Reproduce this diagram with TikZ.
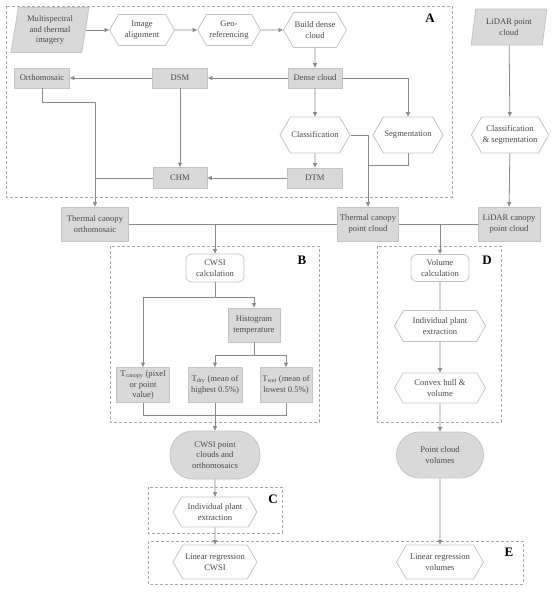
\documentclass[tikz,border=0pt]{standalone}
\usepackage{fontspec}
\setmainfont{Liberation Serif}
\usetikzlibrary{shapes.geometric,shapes.symbols,shapes.misc,arrows.meta}
\definecolor{fillg}{HTML}{D9D9D9}
\definecolor{bordg}{HTML}{C4C4C4}
\definecolor{lineg}{HTML}{8A8A8A}
\definecolor{dashg}{HTML}{A8A8A8}
\definecolor{txtg}{HTML}{4A4A4A}
\tikzset{
  base/.style={font=\fontsize{8.6}{10.6}\selectfont, text=txtg, align=center, inner sep=1pt, line width=0.8pt},
  grect/.style={base, rectangle, draw=bordg, fill=fillg},
  hexa/.style={base, shape=signal, signal to=east and west, signal pointer angle=120, draw=bordg, fill=white},
  para/.style={base, trapezium, trapezium left angle=80, trapezium right angle=100, trapezium stretches=true, draw=bordg, fill=fillg},
  rbox/.style={base, rectangle, rounded corners=6pt, draw=bordg, fill=white},
  stad/.style={base, rectangle, rounded corners=23pt, draw=bordg, fill=fillg},
  conn/.style={draw=lineg, line width=0.8pt},
  arr/.style={conn, -{Triangle[length=4.5pt,width=4pt]}},
  region/.style={draw=dashg, dashed, dash pattern=on 3pt off 2pt, line width=0.7pt},
  tag/.style={font=\fontsize{13}{13}\selectfont\bfseries, text=black}
}
\begin{document}
\begin{tikzpicture}[x=1pt,y=-1pt]
\useasboundingbox (0,0) rectangle (550,592);
% regions
\draw[region] (6,6) rectangle (452,197);
\draw[region] (110,246) rectangle (319,422);
\draw[region] (148,487) rectangle (282,533);
\draw[region] (377,246) rectangle (501,422);
\draw[region] (148,541) rectangle (523,584);
\node[tag] (tA) at (430,18) {A};
\node[tag] (tB) at (302,260) {B};
\node[tag] (tC) at (273,499) {C};
\node[tag] (tD) at (487,260) {D};
\node[tag] (tE) at (509,552) {E};
% nodes part A
\node[para, minimum width=78pt, minimum height=45pt] (ms) at (50,30) {Multispectral\\and thermal\\imagery};
\node[hexa, minimum width=65pt, minimum height=31pt] (ia) at (142,30) {Image\\alignment};
\node[hexa, minimum width=63pt, minimum height=31pt] (geo) at (229,30) {Geo-\\referencing};
\node[hexa, minimum width=61pt, minimum height=35pt] (bdc) at (315,30) {Build dense\\cloud};
\node[grect, minimum width=54pt, minimum height=20pt] (dc) at (315,78) {Dense cloud};
\node[grect, minimum width=55pt, minimum height=20pt] (dsm) at (180,78) {DSM};
\node[grect, minimum width=55pt, minimum height=20pt] (ortho) at (42,78) {Orthomosaic};
\node[hexa, minimum width=67pt, minimum height=36pt] (cls) at (315,135) {Classification};
\node[hexa, minimum width=58pt, minimum height=36pt] (seg) at (408,135) {Segmentation};
\node[grect, minimum width=55pt, minimum height=20pt] (dtm) at (315,178) {DTM};
\node[grect, minimum width=54pt, minimum height=21pt] (chm) at (180,178) {CHM};
% LiDAR
\node[para, minimum width=76pt, minimum height=36pt] (lpc) at (509,27) {LiDAR point\\cloud};
\node[hexa, minimum width=76pt, minimum height=36pt] (cs) at (510,135) {Classification\\\& segmentation};
% canopy products
\node[grect, minimum width=67pt, minimum height=34pt] (tco) at (95,224) {Thermal canopy\\orthomosaic};
\node[grect, minimum width=61pt, minimum height=34pt] (tcpc) at (368,224) {Thermal canopy\\point cloud};
\node[grect, minimum width=62pt, minimum height=34pt] (lcpc) at (509,224) {LiDAR canopy\\point cloud};
% B
\node[rbox, minimum width=58pt, minimum height=28pt] (cwsi) at (215,268) {CWSI\\calculation};
\node[grect, minimum width=52pt, minimum height=34pt] (hist) at (254,325) {Histogram\\temperature};
\node[grect, minimum width=53pt, minimum height=35pt] (tcan) at (143,385) {T\textsubscript{canopy} (pixel\\or point\\value)};
\node[grect, minimum width=54pt, minimum height=35pt] (tdry) at (215,385) {T\textsubscript{dry} (mean of\\highest 0.5\%)};
\node[grect, minimum width=52pt, minimum height=35pt] (twet) at (286,385) {T\textsubscript{wet} (mean of\\lowest 0.5\%)};
\node[stad, minimum width=90pt, minimum height=48pt] (cpc) at (215,455) {CWSI point\\clouds and\\orthomosaics};
% C, E
\node[hexa, minimum width=84pt, minimum height=30pt] (ipec) at (215,512) {Individual plant\\extraction};
\node[hexa, minimum width=84pt, minimum height=34pt] (lrc) at (215,562) {Linear regression\\CWSI};
\node[hexa, minimum width=87pt, minimum height=34pt] (lrv) at (440,562) {Linear regression\\volumes};
% D
\node[rbox, minimum width=58pt, minimum height=27pt] (vol) at (440,268) {Volume\\calculation};
\node[hexa, minimum width=91pt, minimum height=31pt] (iped) at (440,326) {Individual plant\\extraction};
\node[hexa, minimum width=91pt, minimum height=30pt] (chv) at (440,388) {Convex hull \&\\volume};
\node[stad, minimum width=87pt, minimum height=46pt] (pcv) at (440,455) {Point cloud\\volumes};
% junction coordinates
\coordinate (j1) at (42,102);
\coordinate (j2) at (95,102);
\coordinate (j3) at (95,178);
\coordinate (j4) at (368,135);
\coordinate (j5) at (408,165);
\coordinate (j6) at (368,165);
\coordinate (j7) at (215,224);
\coordinate (j8) at (440,224);
\coordinate (j9) at (215,297);
\coordinate (j10) at (143,297);
\coordinate (j11) at (254,297);
\coordinate (j12) at (254,355);
\coordinate (j13) at (215,355);
\coordinate (j14) at (286,355);
\coordinate (j15) at (143,415);
\coordinate (j16) at (286,415);
% connectors A
\draw[arr] (ms.east |- ia.west) -- (ia.west);
\draw[arr] (ia) -- (geo);
\draw[arr] (geo) -- (bdc);
\draw[arr] (bdc) -- (dc);
\draw[arr] (dc) -- (dsm);
\draw[arr] (dsm) -- (ortho);
\draw[arr] (dc) -- (cls);
\draw[arr] (dc.east) -| (seg.north);
\draw[arr] (cls) -- (dtm);
\draw[arr] (dsm) -- (chm);
\draw[arr] (dtm) -- (chm);
\draw[arr] (ortho.south) -- (j1) -- (j2) -- (tco.north);
\draw[conn] (chm.west) -- (j3);
\draw[arr] (cls.east) -- (j4) -- (tcpc.north);
\draw[conn] (seg.south) -- (j5) -- (j6);
\draw[arr] (lpc) -- (cs);
\draw[arr] (cs) -- (lcpc);
% canopy products
\draw[conn] (tco.east) -- (tcpc.west);
\draw[arr] (j7) -- (cwsi.north);
\draw[conn] (tcpc.east) -- (lcpc.west);
\draw[arr] (j8) -- (vol.north);
% B
\draw[conn] (cwsi.south) -- (j9);
\draw[arr] (j9) -- (j10) -- (tcan.north);
\draw[arr] (j9) -- (j11) -- (hist.north);
\draw[conn] (hist.south) -- (j12);
\draw[arr] (j12) -- (j13) -- (tdry.north);
\draw[arr] (j12) -- (j14) -- (twet.north);
\draw[conn] (tcan.south) -- (j15) -- (j16) -- (twet.south);
\draw[arr] (tdry.south) -- (cpc.north);
% C
\draw[arr] (cpc) -- (ipec);
\draw[arr] (ipec) -- (lrc);
% D
\draw[conn] (vol) -- (iped);
\draw[arr] (iped) -- (chv);
\draw[arr] (chv) -- (pcv);
\draw[arr] (pcv) -- (lrv);
\end{tikzpicture}
\end{document}
